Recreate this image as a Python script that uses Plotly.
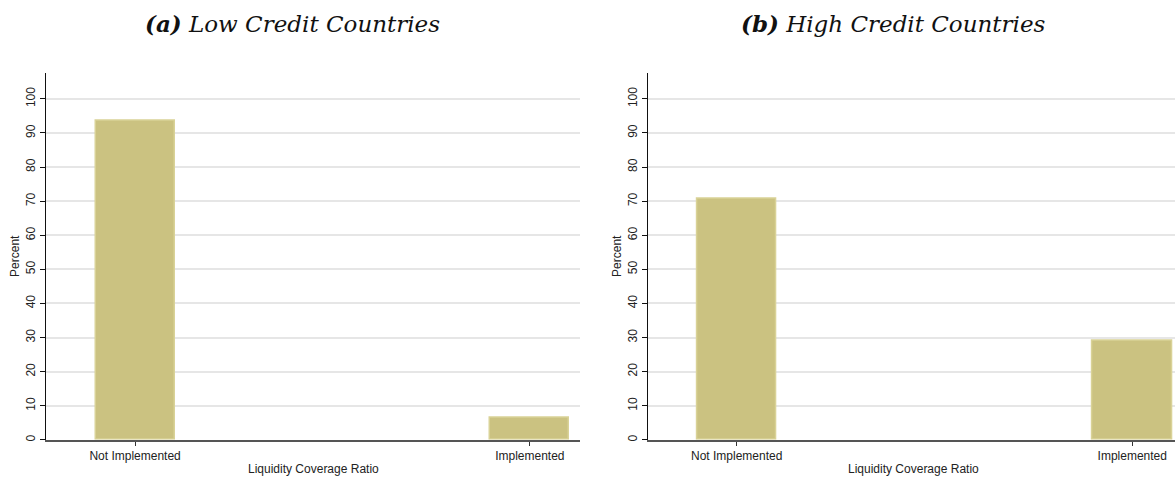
import plotly.graph_objects as go

# Share of countries by LCR implementation status (percent)
categories = ["Not Implemented", "Implemented"]
low_credit = [93.6, 6.4]
high_credit = [70.8, 29.2]
panel_titles = ["<b>(a)</b> Low Credit Countries", "<b>(b)</b> High Credit Countries"]
y_ticks = [0, 10, 20, 30, 40, 50, 60, 70, 80, 90, 100]

W, H = 1175, 479
BAR_FILL = "#CBC281"
BAR_EDGE = "#D9D297"
TICK_FONT = dict(family="Liberation Sans, Arial, sans-serif", size=12, color="#222222")

fig = go.Figure()

x_pos = [0, 1]
fig.add_trace(go.Bar(x=x_pos, y=low_credit, width=0.2, xaxis="x", yaxis="y",
                     marker=dict(color=BAR_FILL, line=dict(color=BAR_EDGE, width=1.5)),
                     showlegend=False))
fig.add_trace(go.Bar(x=x_pos, y=high_credit, width=0.2, xaxis="x2", yaxis="y2",
                     marker=dict(color=BAR_FILL, line=dict(color=BAR_EDGE, width=1.5)),
                     showlegend=False))

def px_x(p):
    return p / W

def px_y(p):
    return 1 - p / H

y_dom = [px_y(441.7), px_y(73)]
y_top = (441.7 - 73) / 3.424

xaxis_common = dict(
    tickmode="array", tickvals=x_pos, ticktext=categories,
    showgrid=False, zeroline=False, showline=True, linecolor="#555555", linewidth=1.5,
    ticks="outside", ticklen=4, tickcolor="#333333", tickwidth=1,
    tickfont=TICK_FONT,
)
yaxis_common = dict(
    range=[0, y_top], tickmode="array", tickvals=y_ticks,
    showgrid=True, gridcolor="#E6E6E6", gridwidth=1.5, zeroline=False,
    showline=True, linecolor="#111111", linewidth=1.2,
    ticks="outside", ticklen=5, tickcolor="#111111", tickwidth=1,
    tickangle=-90, tickfont=TICK_FONT, domain=y_dom,
)

fig.update_layout(
    width=W, height=H,
    margin=dict(l=0, r=0, t=0, b=0),
    paper_bgcolor="white", plot_bgcolor="white",
    bargap=0,
    xaxis=dict(xaxis_common, domain=[px_x(46), px_x(580)], range=[-0.2256, 1.127], anchor="y"),
    yaxis=dict(yaxis_common, anchor="x"),
    xaxis2=dict(xaxis_common, domain=[px_x(648.3), 1.0], range=[-0.2235, 1.108], anchor="y2"),
    yaxis2=dict(yaxis_common, anchor="x2"),
)

annotations = []
title_font = dict(family="DejaVu Serif, Liberation Serif, serif", size=23, color="#111111", style="italic")
for cx, text in zip([292.5, 893.5], panel_titles):
    annotations.append(dict(x=px_x(cx), y=px_y(24), xref="paper", yref="paper", text=text,
                            showarrow=False, xanchor="center", yanchor="middle", font=title_font))
axis_font = dict(family="Liberation Sans, Arial, sans-serif", size=12, color="#222222")
for cx in [15, 617]:
    annotations.append(dict(x=px_x(cx), y=px_y(257), xref="paper", yref="paper", text="Percent",
                            textangle=-90, showarrow=False, xanchor="center", yanchor="middle",
                            font=axis_font))
for cx in [313, 913]:
    annotations.append(dict(x=px_x(cx), y=px_y(470.5), xref="paper", yref="paper",
                            text="Liquidity Coverage Ratio", showarrow=False,
                            xanchor="center", yanchor="middle", font=axis_font))
fig.update_layout(annotations=annotations)

fig.write_html("out.html")
